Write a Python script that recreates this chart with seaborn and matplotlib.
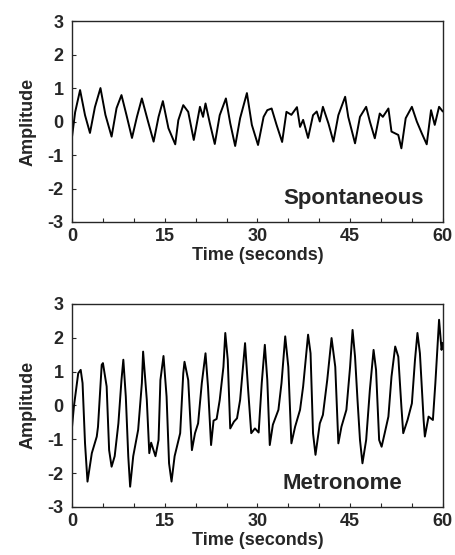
import matplotlib
matplotlib.use("Agg")
import matplotlib.pyplot as plt
import seaborn as sns
import pandas as pd

# values (time in s, amplitude)
spont_t = [0.0, 0.5, 1.3, 2.1, 2.9, 3.7, 4.6, 5.4, 6.4, 7.2, 8.0, 8.8, 9.7, 10.5,
           11.3, 12.3, 13.2, 14.0, 14.7, 15.6, 16.7, 17.2, 18.0, 18.8, 19.7, 20.7,
           21.2, 21.6, 22.3, 23.1, 23.9, 24.9, 25.6, 26.4, 27.2, 28.3, 29.1, 30.1,
           31.0, 31.6, 32.3, 33.1, 34.0, 34.7, 35.5, 36.4, 36.9, 37.4, 38.2, 39.0,
           39.6, 40.1, 40.6, 41.5, 42.3, 43.1, 44.2, 44.7, 45.8, 46.6, 47.6, 48.2,
           49.0, 49.8, 50.3, 51.2, 51.7, 52.8, 53.3, 54.0, 55.0, 55.8, 56.6, 57.4,
           58.1, 58.7, 59.4, 60.0]
spont_v = [-0.45, 0.28, 0.94, 0.19, -0.34, 0.43, 1.0, 0.2, -0.45, 0.4, 0.79, 0.2,
           -0.49, 0.14, 0.69, 0.0, -0.6, 0.14, 0.61, -0.2, -0.68, 0.04, 0.49, 0.29,
           -0.55, 0.44, 0.14, 0.54, -0.05, -0.67, 0.19, 0.69, -0.05, -0.73, 0.1,
           0.85, -0.1, -0.7, 0.14, 0.34, 0.39, -0.1, -0.61, 0.29, 0.2, 0.43, -0.16,
           0.05, -0.49, 0.19, 0.3, 0.0, 0.44, -0.06, -0.6, 0.19, 0.74, 0.14, -0.65,
           0.14, 0.44, 0.0, -0.5, 0.24, 0.14, 0.39, -0.3, -0.4, -0.8, 0.1, 0.44,
           0.0, -0.35, -0.68, 0.34, -0.1, 0.44, 0.3]

metro_t = [0.0, 0.3, 1.0, 1.4, 1.7, 2.1, 2.5, 3.2, 4.0, 4.2, 4.8, 5.0, 5.6, 6.0,
           6.4, 6.9, 7.5, 8.0, 8.3, 8.7, 9.1, 9.4, 9.9, 10.7, 11.3, 11.5, 12.1,
           12.5, 12.8, 13.5, 14.0, 14.3, 14.8, 15.3, 15.7, 16.1, 16.6, 17.5, 18.0,
           18.2, 18.8, 19.4, 19.9, 20.4, 21.0, 21.6, 22.0, 22.5, 22.9, 23.4, 23.9,
           24.5, 24.8, 25.2, 25.6, 26.2, 26.7, 27.2, 28.0, 28.5, 29.0, 29.6, 30.2,
           30.7, 31.2, 31.6, 32.0, 32.5, 33.4, 33.9, 34.5, 35.0, 35.5, 36.1, 36.9,
           37.4, 38.2, 38.6, 39.0, 39.4, 40.1, 40.6, 41.3, 42.0, 42.6, 43.1, 43.6,
           44.4, 45.0, 45.4, 45.8, 46.2, 46.6, 47.0, 47.6, 48.2, 48.8, 49.2, 49.7,
           50.1, 50.6, 51.2, 51.7, 52.3, 52.8, 53.3, 53.6, 54.3, 55.0, 55.5, 55.9,
           56.3, 56.9, 57.1, 57.7, 58.4, 58.8, 59.4, 59.8, 60.0]
metro_v = [-0.63, -0.03, 0.95, 1.05, 0.66, -1.12, -2.25, -1.41, -0.92, -0.63, 1.2,
           1.25, 0.56, -1.32, -1.81, -1.5, -0.53, 0.75, 1.35, 0.26, -1.51, -2.4,
           -1.5, -0.72, 0.66, 1.59, 0.16, -1.41, -1.1, -1.5, -1.02, 0.75, 1.46,
           0.26, -1.71, -2.25, -1.5, -0.82, 0.95, 1.29, 0.75, -1.32, -0.82, -0.53,
           0.66, 1.54, 0.56, -1.17, -0.45, -0.4, 0.16, 1.14, 2.14, 1.35, -0.68,
           -0.48, -0.38, 0.16, 1.84, 0.46, -0.82, -0.68, -0.8, 0.66, 1.79, 0.75,
           -1.17, -0.57, -0.13, 0.66, 2.04, 1.14, -1.12, -0.63, -0.13, 0.56, 2.09,
           1.54, -0.82, -1.46, -0.53, -0.28, 0.75, 1.99, 1.14, -1.12, -0.63, -0.13,
           1.14, 2.23, 1.44, 0.16, -1.02, -1.71, -1.02, 0.46, 1.64, 1.05, -1.02,
           -1.22, -0.82, -0.33, 0.85, 1.74, 1.44, -0.03, -0.82, -0.43, 0.06, 1.34,
           2.14, 1.54, -0.43, -0.92, -0.33, -0.43, 0.66, 2.53, 1.64, 1.85]

panel_labels = ["Spontaneous", "Metronome"]
x_ticks = [0, 15, 30, 45, 60]
y_ticks = [-3, -2, -1, 0, 1, 2, 3]

sns.set_style("ticks")
plt.rcParams["font.family"] = ["Liberation Sans", "DejaVu Sans"]
plt.rcParams["font.weight"] = "bold"
plt.rcParams["axes.unicode_minus"] = False

fig = plt.figure(figsize=(4.56, 5.55), dpi=100)
ax1 = fig.add_axes([0.158, 0.600, 0.813, 0.362])
ax2 = fig.add_axes([0.158, 0.0865, 0.813, 0.366])

dfs = [pd.DataFrame({"t": spont_t, "v": spont_v}),
       pd.DataFrame({"t": metro_t, "v": metro_v})]

for ax, df, name in zip([ax1, ax2], dfs, panel_labels):
    sns.lineplot(data=df, x="t", y="v", ax=ax, color="black", linewidth=1.4)
    ax.set_xlim(0, 60)
    ax.set_ylim(-3, 3)
    ax.set_xticks(x_ticks)
    ax.set_xticks(range(0, 61, 5), minor=True)
    ax.set_yticks(y_ticks)
    ax.tick_params(which="both", direction="in", length=3, width=0.8,
                   labelsize=13, pad=4)
    ax.tick_params(axis="y", pad=6)
    for lab in ax.get_xticklabels() + ax.get_yticklabels():
        lab.set_fontweight("bold")
    for sp in ax.spines.values():
        sp.set_visible(True)
        sp.set_linewidth(1.0)
    ax.set_xlabel("Time (seconds)", fontsize=13, fontweight="bold", labelpad=2)
    ax.set_ylabel("Amplitude", fontsize=13, fontweight="bold", labelpad=8)
    ax.text(0.569, 0.09, name, transform=ax.transAxes, fontsize=16,
            fontweight="bold", ha="left", va="baseline")

fig.savefig("out.png", dpi=100)
